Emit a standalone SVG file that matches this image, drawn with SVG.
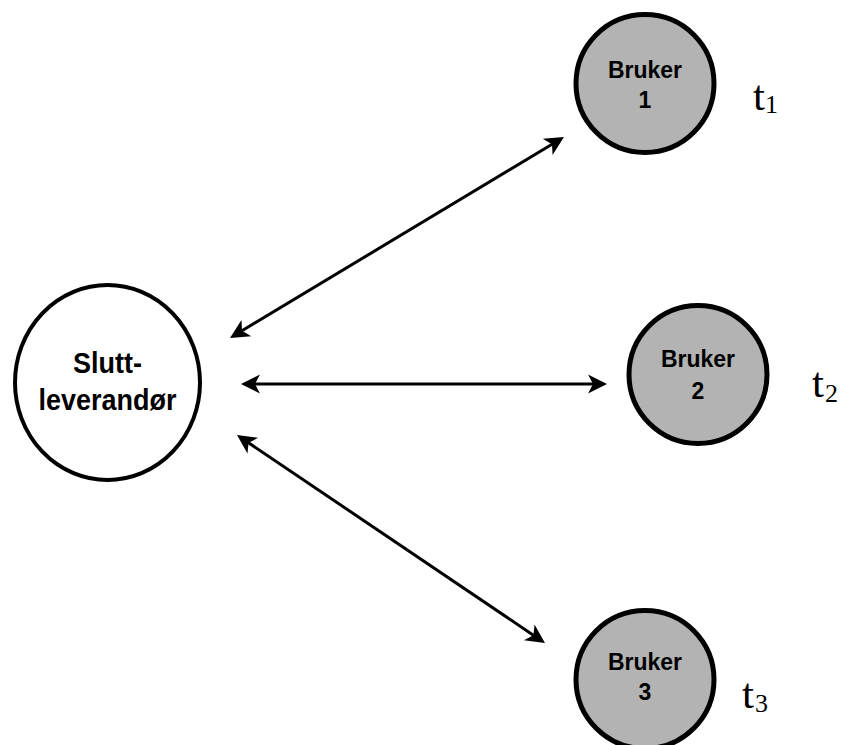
<svg xmlns="http://www.w3.org/2000/svg" width="842" height="745" viewBox="0 0 842 745">
  <style>
    .supplier { fill: #ffffff; stroke: #000000; stroke-width: 4; }
    .user { fill: #b3b3b3; stroke: #000000; stroke-width: 5; }
    .label { font-family: "Liberation Sans", Arial, sans-serif; font-weight: bold; fill: #000000; text-anchor: middle; }
    .big { font-size: 27px; }
    .small { font-size: 23px; }
    .time { font-family: "Liberation Serif", "Times New Roman", serif; fill: #000000; font-size: 43px; }
    .sub { font-size: 26px; }
    .link { stroke: #000000; stroke-width: 3; fill: none; marker-start: url(#head); marker-end: url(#head); }
  </style>
  <defs>
    <!-- swept-back arrowhead; the tip sits 10px beyond the line end -->
    <marker id="head" viewBox="-15 -15 30 30" refX="0" refY="0" markerWidth="30" markerHeight="30" markerUnits="userSpaceOnUse" orient="auto-start-reverse" overflow="visible">
      <path d="M 10 0 L -9 -9.5 L -4 0 L -9 9.5 Z" fill="#000000"/>
    </marker>
  </defs>
  <rect width="842" height="745" fill="#ffffff"/>

  <g id="connectors">
    <line class="link" x1="238.6" y1="332.8" x2="555.4" y2="142.2"/>
    <line class="link" x1="251" y1="384" x2="597" y2="384"/>
    <line class="link" x1="245.3" y1="440.6" x2="536.7" y2="637.4"/>
  </g>

  <g id="sluttleverandor">
    <ellipse class="supplier" cx="107.5" cy="382.5" rx="92.5" ry="97.5"/>
    <text class="label big" transform="translate(107.5 373) scale(1 1.12)">Slutt-</text>
    <text class="label big" transform="translate(107.5 410) scale(1 1.12)">leverandør</text>
  </g>

  <g id="bruker1">
    <circle class="user" cx="645" cy="83.5" r="69"/>
    <text class="label small" x="645" y="78">Bruker</text>
    <text class="label small" x="645" y="108">1</text>
    <text class="time" x="753" y="110">t<tspan class="sub" x="765" y="113">1</tspan></text>
  </g>

  <g id="bruker2">
    <circle class="user" cx="698" cy="374.5" r="69"/>
    <text class="label small" x="698" y="367">Bruker</text>
    <text class="label small" x="698" y="399">2</text>
    <text class="time" x="812" y="397">t<tspan class="sub" x="825" y="402">2</tspan></text>
  </g>

  <g id="bruker3">
    <circle class="user" cx="645" cy="679.5" r="69"/>
    <text class="label small" x="645" y="670">Bruker</text>
    <text class="label small" x="645" y="700">3</text>
    <text class="time" x="742" y="708">t<tspan class="sub" x="755" y="712">3</tspan></text>
  </g>
</svg>
